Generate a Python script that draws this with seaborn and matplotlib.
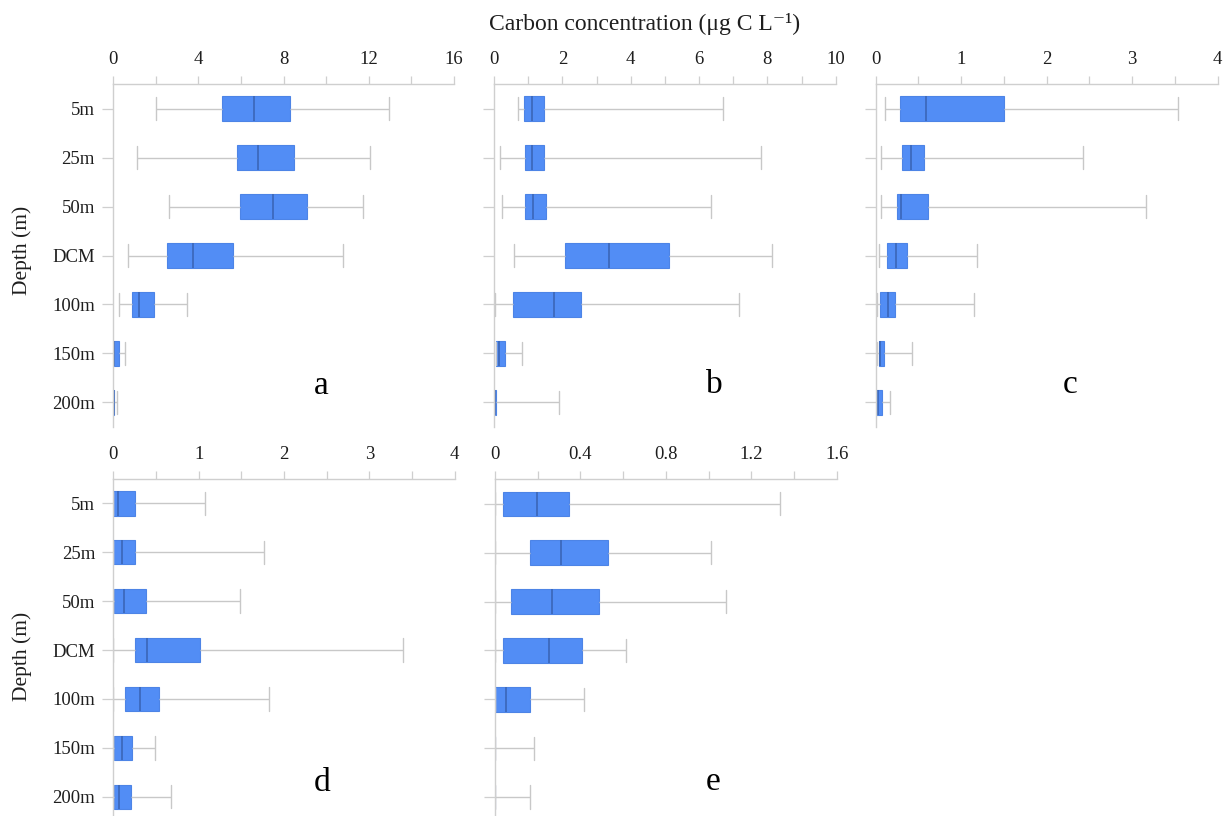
import numpy as np
import pandas as pd
import matplotlib
matplotlib.use("Agg")
import matplotlib.pyplot as plt
import seaborn as sns

# ---------------- data ----------------
depths = ["5m", "25m", "50m", "DCM", "100m", "150m", "200m"]

# five-number summaries per depth: [min, Q1, median, Q3, max]
panel_a = [
    [2.03, 5.11, 6.63, 8.30, 12.97],
    [1.13, 5.83, 6.80, 8.47, 12.06],
    [2.64, 5.97, 7.50, 9.11, 11.75],
    [0.72, 2.53, 3.75, 5.63, 10.78],
    [0.30, 0.91, 1.22, 1.91, 3.45],
    [0.00, 0.00, 0.05, 0.30, 0.55],
    [0.00, 0.01, 0.03, 0.06, 0.20],
]
panel_b = [
    [0.71, 0.88, 1.11, 1.47, 6.71],
    [0.19, 0.91, 1.11, 1.46, 7.82],
    [0.24, 0.92, 1.15, 1.51, 6.34],
    [0.58, 2.07, 3.38, 5.12, 8.13],
    [0.03, 0.57, 1.76, 2.55, 7.16],
    [0.05, 0.06, 0.14, 0.33, 0.83],
    [0.00, 0.02, 0.04, 0.06, 1.91],
]
panel_c = [
    [0.11, 0.285, 0.585, 1.505, 3.54],
    [0.06, 0.31, 0.41, 0.57, 2.42],
    [0.066, 0.25, 0.30, 0.61, 3.16],
    [0.04, 0.13, 0.24, 0.37, 1.18],
    [0.01, 0.05, 0.14, 0.22, 1.15],
    [0.01, 0.04, 0.05, 0.10, 0.43],
    [0.00, 0.005, 0.03, 0.074, 0.17],
]
panel_d = [
    [0.0, 0.0, 0.05, 0.26, 1.07],
    [0.0, 0.0, 0.10, 0.25, 1.77],
    [0.0, 0.01, 0.13, 0.38, 1.49],
    [0.0, 0.25, 0.40, 1.02, 3.39],
    [0.0, 0.14, 0.31, 0.53, 1.82],
    [0.0, 0.01, 0.10, 0.22, 0.49],
    [0.0, 0.01, 0.07, 0.21, 0.68],
]
panel_e = [
    [0.0, 0.036, 0.195, 0.345, 1.333],
    [0.0, 0.165, 0.309, 0.529, 1.01],
    [0.0, 0.076, 0.265, 0.489, 1.08],
    [0.0, 0.036, 0.251, 0.407, 0.615],
    [0.0, 0.0, 0.053, 0.164, 0.418],
    [0.0, 0.0, 0.0, 0.0, 0.181],
    [0.0, 0.0, 0.0, 0.0, 0.162],
]

a_major = [0, 4, 8, 12, 16]
b_major = [0, 2, 4, 6, 8, 10]
c_major = [0, 1, 2, 3, 4]
d_major = [0, 1, 2, 3, 4]
e_major = [0, 0.4, 0.8, 1.2, 1.6]

panel_letters = ["a", "b", "c", "d", "e"]
title = "Carbon concentration (\u03bcg C L\u207b\u00b9)"
ylabel = "Depth (m)"

# ---------------- style ----------------
sns.set_style("white")
plt.rcParams["font.family"] = ["Liberation Serif", "DejaVu Serif"]

BOX = "#528DF5"
EDGE = "#4D84E6"
MED = "#3A66B8"
WHISK = "#C8C8C8"
SPINE = "#CFCFCF"
TXT = "#1E1E1E"

W, H = 1225, 816
fig = plt.figure(figsize=(W / 100, H / 100), dpi=100)


def px_axes(left, right, top, bottom):
    return fig.add_axes([left / W, 1 - bottom / H, (right - left) / W, (bottom - top) / H])


def draw(ax, summary, major, show_ylabels):
    df = pd.DataFrame({"depth": np.repeat(depths, 5), "value": np.ravel(summary)})
    sns.boxplot(
        data=df, x="value", y="depth", order=depths, orient="h",
        whis=(0, 100), width=0.5, saturation=1, color=BOX, fliersize=0,
        capwidths=0.48, ax=ax,
        boxprops=dict(facecolor=BOX, edgecolor=EDGE, linewidth=0.8),
        medianprops=dict(color=MED, linewidth=1.2),
        whiskerprops=dict(color=WHISK, linewidth=1.0),
        capprops=dict(color=WHISK, linewidth=1.0),
    )
    step = major[1] - major[0]
    ax.set_xlim(0, major[-1])
    ax.set_ylim(6.5, -0.5)
    ax.xaxis.tick_top()
    ax.set_xticks(major)
    ax.set_xticklabels([f"{v:g}" for v in major])
    ax.set_xticks([m + step / 2 for m in major[:-1]], minor=True)
    ax.tick_params(axis="x", which="both", top=True, bottom=False, length=5.5,
                   width=0.9, color=SPINE, pad=6, labelsize=13.5, labelcolor=TXT,
                   direction="out")
    ax.tick_params(axis="y", which="both", left=True, length=8, width=0.9,
                   color=SPINE, pad=5, labelsize=13.5, labelcolor=TXT, direction="out")
    for s in ["right", "bottom"]:
        ax.spines[s].set_visible(False)
    for s in ["left", "top"]:
        ax.spines[s].set_visible(True)
        ax.spines[s].set_color(SPINE)
        ax.spines[s].set_linewidth(1.0)
    ax.set_xlabel("")
    ax.set_ylabel("")
    ax.grid(False)
    if not show_ylabels:
        ax.set_yticklabels([])


ax_a = px_axes(113, 454, 84.2, 426.8)
ax_b = px_axes(494, 835.7, 84.2, 426.8)
ax_c = px_axes(875.7, 1217.7, 84.2, 426.8)
ax_d = px_axes(113.3, 454.7, 478.9, 821.2)
ax_e = px_axes(495, 836.7, 479.3, 821.6)

draw(ax_a, panel_a, a_major, True)
draw(ax_b, panel_b, b_major, False)
draw(ax_c, panel_c, c_major, False)
draw(ax_d, panel_d, d_major, True)
draw(ax_e, panel_e, e_major, False)

# figure texts
fig.text(645 / W, 1 - 30 / H, title, ha="center", va="baseline", fontsize=17, color=TXT)
fig.text(22 / W, 1 - 250 / H, ylabel, ha="center", va="center", rotation=90, fontsize=15.5, color=TXT)
fig.text(22 / W, 1 - 656 / H, ylabel, ha="center", va="center", rotation=90, fontsize=15.5, color=TXT)

letter_pos = [(321, 394), (714, 393), (1070, 393), (322, 791), (713, 790)]
for lab, (lx, ly) in zip(panel_letters, letter_pos):
    fig.text(lx / W, 1 - ly / H, lab, ha="center", va="baseline", fontsize=24, color="black")

fig.savefig("out.png", dpi=100)
